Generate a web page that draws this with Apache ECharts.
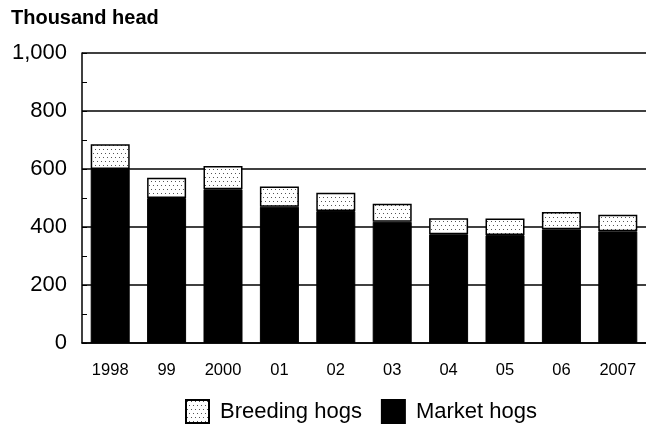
<!DOCTYPE html>
<html>
<head>
<meta charset="utf-8">
<script src="https://cdn.jsdelivr.net/npm/echarts@6/dist/echarts.min.js"></script>
<style>
  html, body { margin: 0; padding: 0; background: #fff; }
  #chart { width: 646px; height: 426px; }
</style>
</head>
<body>
<div id="chart"></div>
<script>
// data (thousand head)
const years = ['1998', '99', '2000', '01', '02', '03', '04', '05', '06', '2007']
const marketHogs = [600, 500, 530, 470, 455, 418, 375, 372, 392, 385]
const breedingHogs = [85, 70, 80, 70, 63, 62, 55, 57, 60, 57]
const yTicks = [0, 200, 400, 600, 800, 1000]

const FONT = '"Liberation Sans", Arial, sans-serif'

// dotted fill for breeding hogs (staggered grid of small grey dots)
function dotPattern() {
  const c = document.createElement('canvas')
  c.width = 8
  c.height = 8
  const ctx = c.getContext('2d')
  ctx.fillStyle = '#fff'
  ctx.fillRect(0, 0, 8, 8)
  ctx.fillStyle = '#555'
  ctx.fillRect(1, 1, 1, 1)
  ctx.fillRect(5, 1, 1, 1)
  ctx.fillRect(3, 5, 1, 1)
  ctx.fillRect(7, 5, 1, 1)
  return c
}
const dots = { image: dotPattern(), repeat: 'repeat' }

const chart = echarts.init(document.getElementById('chart'), null, { renderer: 'canvas' })

chart.setOption({
  animation: false,
  backgroundColor: '#fff',
  title: {
    text: 'Thousand head',
    left: 6,
    top: 3,
    textStyle: { fontFamily: FONT, fontSize: 20, fontWeight: 'bold', color: '#000' }
  },
  legend: {
    data: ['Breeding hogs', 'Market hogs'],
    left: 180,
    top: 394,
    icon: 'rect',
    itemWidth: 23,
    itemHeight: 23,
    itemGap: 19,
    textStyle: { fontFamily: FONT, fontSize: 22, color: '#000', padding: [0, 0, 0, 6] }
  },
  grid: { left: 82, right: 0, top: 53, bottom: 83, containLabel: false },
  xAxis: {
    type: 'category',
    data: years,
    axisLine: { lineStyle: { color: '#000', width: 1.5 } },
    axisTick: { show: false },
    axisLabel: { fontFamily: FONT, fontSize: 16.5, color: '#000', margin: 19 }
  },
  yAxis: {
    type: 'value',
    min: yTicks[0],
    max: yTicks[yTicks.length - 1],
    interval: 200,
    axisLine: { show: true, lineStyle: { color: '#000', width: 1.5 } },
    axisTick: { show: true, inside: true, length: 5, lineStyle: { color: '#000' } },
    minorTick: { show: true, splitNumber: 2, length: 5, lineStyle: { color: '#000' } },
    splitLine: { show: true, lineStyle: { color: '#000', width: 1.5 } },
    axisLabel: {
      fontFamily: FONT,
      fontSize: 22,
      color: '#000',
      margin: 15,
      formatter: v => v.toLocaleString('en-US')
    }
  },
  series: [
    {
      name: 'Market hogs',
      type: 'bar',
      stack: 'total',
      data: marketHogs,
      barWidth: 39,
      itemStyle: { color: '#000', borderColor: '#000', borderWidth: 1 }
    },
    {
      name: 'Breeding hogs',
      type: 'bar',
      stack: 'total',
      data: breedingHogs,
      barWidth: 39,
      itemStyle: { color: dots, borderColor: '#000', borderWidth: 1.5 }
    }
  ]
})
</script>
</body>
</html>
